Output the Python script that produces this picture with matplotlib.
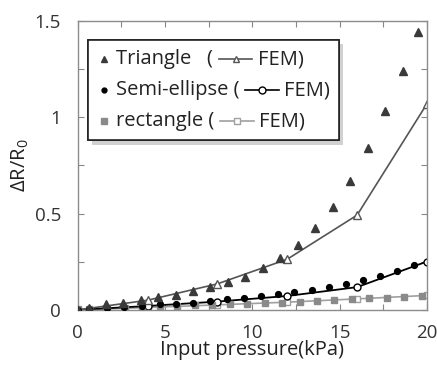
import matplotlib
matplotlib.use("Agg")
import matplotlib.pyplot as plt
from matplotlib import patheffects
from matplotlib.lines import Line2D
from matplotlib.offsetbox import AnchoredOffsetbox, HPacker, VPacker, TextArea, DrawingArea

plt.rcParams['font.family'] = ['Open Sans', 'DejaVu Sans']
plt.rcParams['mathtext.fontset'] = 'custom'
plt.rcParams['mathtext.rm'] = 'Open Sans'

# 측정값 (실험)
tri_x = [0, 0.65, 1.6, 2.6, 3.6, 4.6, 5.6, 6.6, 7.6, 8.6, 9.6, 10.6, 11.6, 12.6, 13.6, 14.6, 15.6, 16.6, 17.6, 18.6, 19.5]
tri_y = [0, 0.01, 0.028, 0.036, 0.049, 0.066, 0.078, 0.097, 0.118, 0.144, 0.173, 0.218, 0.268, 0.338, 0.424, 0.534, 0.667, 0.842, 1.032, 1.239, 1.441]

ell_x = [0, 0.65, 1.65, 2.65, 3.65, 4.7, 5.6, 6.6, 7.55, 8.55, 9.5, 10.5, 11.45, 12.4, 13.4, 14.4, 15.35, 16.35, 17.3, 18.3, 19.25]
ell_y = [0, 0.005, 0.01, 0.015, 0.02, 0.028, 0.031, 0.036, 0.045, 0.054, 0.062, 0.071, 0.080, 0.092, 0.104, 0.118, 0.135, 0.156, 0.175, 0.201, 0.232]

rec_x = [0, 0.65, 1.65, 2.7, 3.7, 4.7, 5.7, 6.7, 7.7, 8.7, 9.7, 10.7, 11.7, 12.7, 13.7, 14.7, 15.7, 16.7, 17.7, 18.7, 19.7]
rec_y = [0.002, 0.005, 0.005, 0.010, 0.012, 0.017, 0.021, 0.023, 0.024, 0.028, 0.031, 0.035, 0.038, 0.043, 0.047, 0.050, 0.055, 0.062, 0.064, 0.069, 0.074]

# FEM 결과
fem_x = [0, 4, 8, 12, 16, 20]
fem_tri = [0, 0.05, 0.135, 0.263, 0.492, 1.07]
fem_ell = [0, 0.02, 0.043, 0.072, 0.118, 0.251]
fem_rec = [0, 0.012, 0.026, 0.040, 0.057, 0.075]

xticks = [0, 5, 10, 15, 20]
yticks = [0, 0.5, 1, 1.5]
ytick_labels = ["0", "0.5", "1", "1.5"]

c_tri = "#3a3a3a"
c_ell = "#000000"
c_rec = "#8a8a8a"
c_tri_line = "#555555"
c_rec_line = "#a0a0a0"

fig = plt.figure(figsize=(4.37, 3.68), dpi=100)
ax = fig.add_axes([0.178, 0.158, 0.799, 0.785])

ax.plot(fem_x, fem_rec, color=c_rec_line, lw=1.2, marker="s", ms=5, mfc="white", mec=c_rec_line, zorder=2)
ax.plot(rec_x, rec_y, ls="none", marker="s", ms=4.5, color=c_rec, zorder=3)
ax.plot(fem_x, fem_ell, color=c_ell, lw=1.3, marker="o", ms=5, mfc="white", mec=c_ell, zorder=2)
ax.plot(ell_x, ell_y, ls="none", marker="o", ms=4.2, color=c_ell, zorder=3)
ax.plot(fem_x, fem_tri, color=c_tri_line, lw=1.2, marker="^", ms=5.5, mfc="white", mec=c_tri_line, zorder=2)
ax.plot(tri_x, tri_y, ls="none", marker="^", ms=5.2, color=c_tri, zorder=3)

ax.set_xlim(0, 20)
ax.set_ylim(0, 1.5)
ax.set_xticks(xticks)
ax.set_yticks(yticks)
ax.set_yticklabels(ytick_labels)
ax.set_xticks([2.5, 7.5, 12.5, 17.5], minor=True)
ax.set_yticks([0.25, 0.75, 1.25], minor=True)
ax.tick_params(which="both", direction="in", top=True, right=True, length=4, width=0.8,
               color="#888888", labelsize=13.5, labelcolor="#333333")
ax.tick_params(axis="x", pad=10)
ax.tick_params(axis="y", pad=12)
for s in ax.spines.values():
    s.set_color("#8c8c8c")
    s.set_linewidth(1.0)

ax.set_xlabel("Input pressure(kPa)", fontsize=14.5, color="#222222", labelpad=-1)
ax.set_ylabel("ΔR/R$_0$", fontsize=14.5, color="#222222", labelpad=3)

# 범례 (텍스트 안에 FEM 선 포함)
fs = 14.5


def mark_box(marker, color, ms):
    da = DrawingArea(10, 10, 0, 0)
    da.add_artist(Line2D([5], [5], ls="none", marker=marker, ms=ms, color=color))
    return da


def line_box(marker, color):
    da = DrawingArea(24, 10, 0, 0)
    da.add_artist(Line2D([0, 24], [5, 5], color=color, lw=1.2))
    da.add_artist(Line2D([12], [5], ls="none", marker=marker, ms=5, mfc="white", mec=color))
    return da


def txt(s):
    return TextArea(s, textprops=dict(fontsize=fs, color="#222222"))


rows = [
    HPacker(children=[mark_box("^", c_tri, 4), txt("Triangle   ("), line_box("^", c_tri_line), txt("FEM)")],
            align="center", pad=0, sep=4),
    HPacker(children=[mark_box("o", c_ell, 3.5), txt("Semi-ellipse ("), line_box("o", c_ell), txt("FEM)")],
            align="center", pad=0, sep=4),
    HPacker(children=[mark_box("s", c_rec, 4), txt("rectangle ("), line_box("s", c_rec_line), txt("FEM)")],
            align="center", pad=0, sep=4),
]
vbox = VPacker(children=rows, align="left", pad=0, sep=8)
leg = AnchoredOffsetbox(loc="upper left", child=vbox, pad=0.45, borderpad=0, frameon=True,
                        bbox_to_anchor=(0.029, 0.934), bbox_transform=ax.transAxes,
                        prop=dict(size=fs))
leg.patch.set_edgecolor("#222222")
leg.patch.set_linewidth(1.2)
leg.patch.set_path_effects([patheffects.withSimplePatchShadow(offset=(3, -3), shadow_rgbFace="0.6", alpha=0.45),
                            patheffects.Normal()])
ax.add_artist(leg)

fig.savefig("out.png", dpi=100)
